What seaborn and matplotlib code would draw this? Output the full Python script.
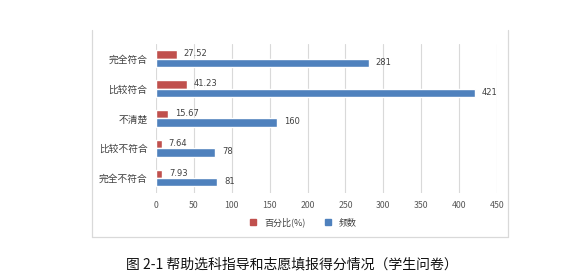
import matplotlib
matplotlib.use("Agg")
import matplotlib.pyplot as plt
from matplotlib.lines import Line2D
import seaborn as sns
import pandas as pd

categories = ["完全符合", "比较符合", "不清楚", "比较不符合", "完全不符合"]
percent_values = [27.52, 41.23, 15.67, 7.64, 7.93]
count_values = [281, 421, 160, 78, 81]
series_names = ["百分比(%)", "频数"]
x_ticks = [0, 50, 100, 150, 200, 250, 300, 350, 400, 450]
caption = "图 2-1 帮助选科指导和志愿填报得分情况（学生问卷）"

df = pd.DataFrame({
    "类别": categories * 2,
    "数值": percent_values + count_values,
    "系列": [series_names[0]] * len(categories) + [series_names[1]] * len(categories),
})

sns.set_theme(style="white")
plt.rcParams["font.family"] = ["Noto Sans CJK SC", "DejaVu Sans"]

fig = plt.figure(figsize=(5.84, 2.76), dpi=100)
ax = fig.add_axes([0.267, 0.301, 0.584, 0.540])

palette = {series_names[0]: "#C0504D", series_names[1]: "#4F81BD"}
sns.barplot(data=df, y="类别", x="数值", hue="系列", order=categories,
            hue_order=series_names, palette=palette, orient="h",
            width=0.56, saturation=1, legend=False, ax=ax)

ax.set_xlim(0, 450)
ax.set_xticks(x_ticks)
ax.xaxis.grid(True, color="#D9D9D9", linewidth=0.8)
ax.set_axisbelow(True)
for s in ax.spines.values():
    s.set_visible(False)
ax.set_xlabel("")
ax.set_ylabel("")
ax.tick_params(axis="x", labelsize=6.3, colors="#595959", length=0, pad=6)
ax.tick_params(axis="y", labelsize=7, colors="#404040", length=0, pad=6)

# value labels at the end of each bar
for container, vals in zip(ax.containers, [percent_values, count_values]):
    for bar, v in zip(container, vals):
        y = bar.get_y() + bar.get_height() / 2
        ax.annotate(f"{v:g}" if isinstance(v, int) else f"{v:.2f}",
                    xy=(bar.get_width(), y), xytext=(5, 0.5),
                    textcoords="offset points", va="center", ha="left",
                    fontsize=6, color="#404040", family="DejaVu Sans")

# legend under the plot
handles = [Line2D([], [], marker="s", linestyle="", markersize=4,
                  markerfacecolor=palette[n], markeredgecolor=palette[n])
           for n in series_names]
fig.legend(handles, series_names, loc="center", bbox_to_anchor=(0.515, 0.195),
           ncol=2, frameon=False, fontsize=6.5, handletextpad=0.2,
           columnspacing=1.5, labelcolor="#404040")

# chart area frame (left, right, bottom edges)
frame_kw = dict(color="#D9D9D9", linewidth=0.9, transform=fig.transFigure)
fig.add_artist(Line2D([0.1575, 0.1575], [0.141, 0.891], **frame_kw))
fig.add_artist(Line2D([0.870, 0.870], [0.141, 0.891], **frame_kw))
fig.add_artist(Line2D([0.1575, 0.870], [0.141, 0.141], **frame_kw))

fig.text(0.5, 0.04, caption, ha="center", va="center", fontsize=10,
         color="#111111", fontweight="medium")

fig.savefig("out.png", dpi=100)
